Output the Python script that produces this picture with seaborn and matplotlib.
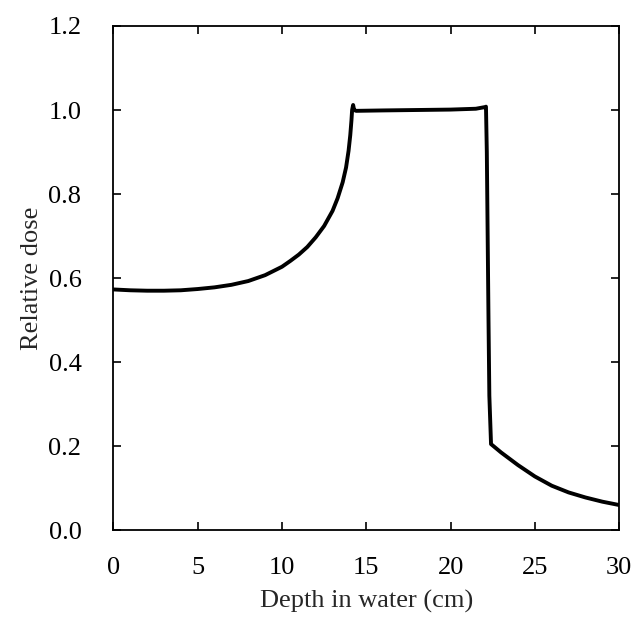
import matplotlib
matplotlib.use("Agg")
import matplotlib.pyplot as plt
import seaborn as sns
import pandas as pd

# 深度-剂量数据
depth = [0.0, 1.0, 2.0, 3.0, 4.0, 5.0, 6.0, 7.0, 8.0, 9.0, 10.0, 10.5, 11.0, 11.5,
         12.0, 12.5, 13.0, 13.3, 13.6, 13.8, 13.95, 14.05, 14.12, 14.16, 14.22, 14.28, 14.4,
         16.0, 18.0, 20.0, 21.5, 22.05, 22.1, 22.15, 22.2, 22.25, 22.3, 22.4,
         23.0, 24.0, 25.0, 26.0, 27.0, 28.0, 29.0, 30.0]
dose = [0.573, 0.571, 0.570, 0.570, 0.571, 0.574, 0.578, 0.584, 0.593, 0.607, 0.627, 0.641,
        0.656, 0.674, 0.697, 0.724, 0.760, 0.790, 0.828, 0.863, 0.903, 0.940, 0.975, 1.000,
        1.012, 1.000, 0.998, 0.999, 1.000, 1.001, 1.003, 1.007, 1.008, 0.90, 0.70, 0.50, 0.32,
        0.205, 0.185, 0.155, 0.128, 0.106, 0.090, 0.078, 0.068, 0.060]

df = pd.DataFrame({"depth": depth, "dose": dose})

sns.set_style("ticks")
plt.rcParams["font.family"] = ["Liberation Serif", "DejaVu Serif"]

fig = plt.figure(figsize=(6.37, 6.18), dpi=100)
ax = fig.add_axes([0.178, 0.142, 0.794, 0.816])

sns.lineplot(data=df, x="depth", y="dose", sort=False, estimator=None,
             color="black", linewidth=2.8, ax=ax)

ax.set_xlim(0, 30)
ax.set_ylim(0, 1.2)
ax.set_xticks([0, 5, 10, 15, 20, 25, 30])
ax.set_yticks([0.0, 0.2, 0.4, 0.6, 0.8, 1.0, 1.2])
ax.set_yticklabels([f"{v:.1f}" for v in [0.0, 0.2, 0.4, 0.6, 0.8, 1.0, 1.2]])
ax.tick_params(direction="in", top=True, right=True, labelsize=19,
               length=6, width=1.2, colors="black")
ax.tick_params(axis="x", pad=19)
ax.tick_params(axis="y", pad=23)
for s in ax.spines.values():
    s.set_visible(True)
    s.set_linewidth(1.3)
    s.set_color("black")

ax.set_xlabel("Depth in water (cm)", fontsize=19, labelpad=8)
ax.set_ylabel("Relative dose", fontsize=19)

fig.savefig("out.png", dpi=100)
